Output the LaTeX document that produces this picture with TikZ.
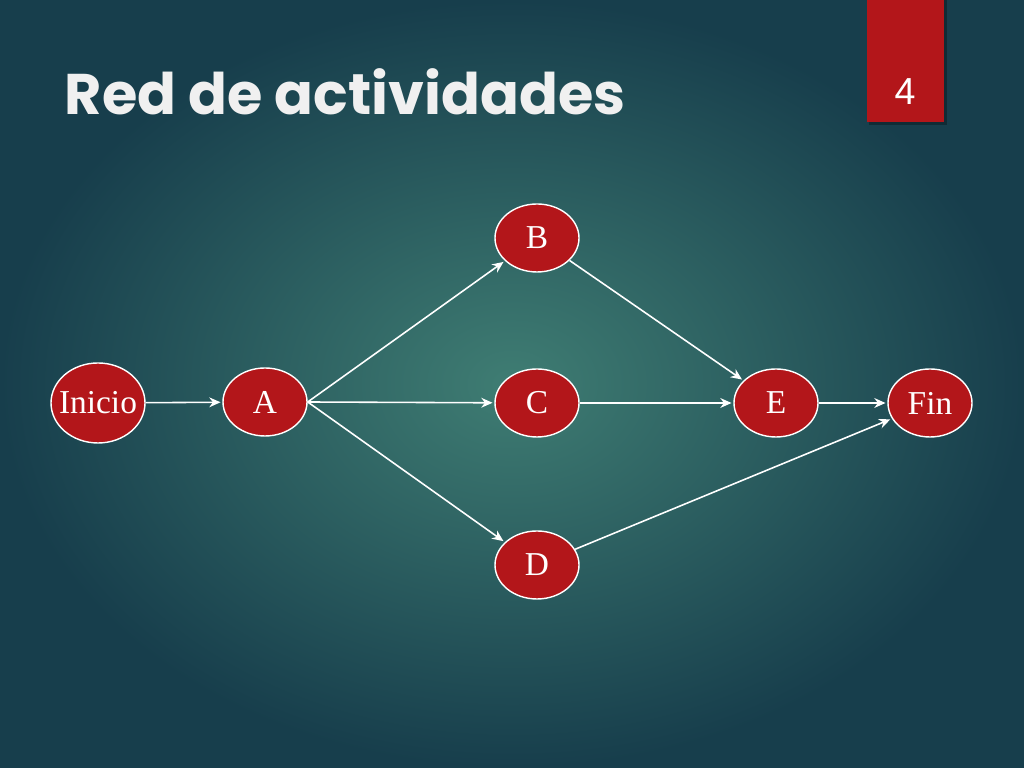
\documentclass[tikz,border=0pt]{standalone}
\usepackage{fontspec}
\setmainfont{Liberation Serif}
\newfontfamily\titlefont{Poppins}
\newfontfamily\numfont{Liberation Sans}
\usetikzlibrary{shapes.geometric, arrows.meta}

\definecolor{bginner}{HTML}{3F7D73}
\definecolor{bgouter}{HTML}{173E4C}
\definecolor{nodered}{HTML}{B3161A}

\newlength{\pxunit}
\setlength{\pxunit}{0.01cm}

\tikzset{
  act/.style={ellipse, draw=white, line width=0.4pt, fill=nodered, text=white,
    minimum width=84\pxunit, minimum height=68\pxunit, inner sep=0pt,
    font=\fontsize{9.5}{10}\selectfont},
  link/.style={draw=white, line width=0.45pt, -{Stealth[length=3.2pt,width=2.8pt]}, shorten >=0.5pt}
}

\begin{document}
\begin{tikzpicture}[x=0.01cm, y=-0.01cm]
\useasboundingbox (0,0) rectangle (1024,768);
\shade[inner color=bginner, outer color=bgouter] (0,0) rectangle (1024,768);

% tab with slide number
\fill[black, opacity=0.3] (869,0) rectangle (947,125);
\fill[nodered] (867,0) rectangle (944,122);
\node[text=white, font=\numfont\fontsize{10.7}{12}\selectfont] (num) at (905,92) {4};

\node[anchor=base west, inner sep=0pt, text=white!94!black,
  font=\titlefont\bfseries\fontsize{16.3}{18}\selectfont] (title) at (64,115) {Red de actividades};

\coordinate (Pi) at (98,403);
\coordinate (Pa) at (265,402);
\coordinate (Pb) at (537,238);
\coordinate (Pc) at (537,403);
\coordinate (Pd) at (537,565);
\coordinate (Pe) at (776,403);
\coordinate (Pf) at (930,403);

\node[act, minimum width=94\pxunit, minimum height=80\pxunit, inner xsep=-12\pxunit] (inicio) at (Pi) {Inicio};
\node[act] (a) at (Pa) {A};
\node[act] (b) at (Pb) {B};
\node[act] (c) at (Pc) {C};
\node[act] (d) at (Pd) {D};
\node[act] (e) at (Pe) {E};
\node[act] (fin) at (Pf) {Fin};

\draw[link] (inicio) -- (a);
\draw[link] (a.east) -- (b);
\draw[link] (a.east) -- (c);
\draw[link] (a.east) -- (d);
\draw[link] (b) -- (e);
\draw[link] (c) -- (e);
\draw[link] (e) -- (fin);
\draw[link] (d) -- (fin);
\end{tikzpicture}
\end{document}
